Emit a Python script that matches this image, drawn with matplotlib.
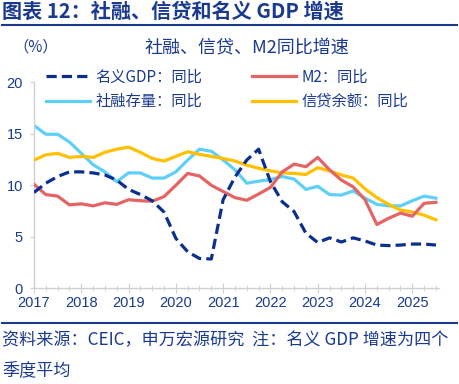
import matplotlib
matplotlib.use("Agg")
import matplotlib.pyplot as plt
from matplotlib.ticker import MultipleLocator
import numpy as np

# quarterly points, 2017Q1 .. 2025 (35 points)
start_year = 2017
n_points = 35

gdp = [9.3, 10.2, 10.85, 11.3, 11.3, 11.2, 11.0, 10.5, 9.6, 9.1, 8.5, 7.4,
       4.85, 3.55, 2.9, 2.85, 8.6, 10.8, 12.45, 13.5, 10.35, 8.4, 7.45, 5.35,
       4.45, 4.9, 4.5, 4.9, 4.6, 4.2, 4.15, 4.2, 4.3, 4.3, 4.2]
m2 = [10.1, 9.1, 8.95, 8.1, 8.2, 8.0, 8.3, 8.15, 8.6, 8.5, 8.45, 8.9,
      10.0, 11.15, 10.9, 10.0, 9.4, 8.8, 8.55, 9.15, 9.8, 11.3, 12.05, 11.8,
      12.7, 11.5, 10.5, 9.85, 8.6, 6.2, 6.8, 7.3, 7.0, 8.25, 8.35]
tsf = [15.8, 14.95, 14.95, 14.2, 13.1, 12.0, 11.3, 10.35, 11.2, 11.2, 10.7, 10.7,
       11.3, 12.45, 13.5, 13.3, 12.45, 11.5, 10.2, 10.4, 10.55, 10.85, 10.6, 9.6,
       9.9, 9.1, 9.05, 9.45, 8.75, 8.15, 8.0, 8.0, 8.5, 8.95, 8.75]
loans = [12.45, 12.95, 13.1, 12.7, 12.8, 12.7, 13.2, 13.5, 13.7, 13.2, 12.6, 12.35,
         12.8, 13.25, 13.0, 12.8, 12.6, 12.35, 11.95, 11.65, 11.4, 11.2, 11.15, 11.05,
         11.7, 11.4, 11.0, 10.7, 9.65, 8.8, 8.15, 7.6, 7.4, 7.1, 6.65]

year_labels = ["2017", "2018", "2019", "2020", "2021", "2022", "2023", "2024", "2025"]

x = start_year + 0.25 * np.arange(n_points)

NAVY = "#1A3A8F"
CJK = ["Noto Sans CJK SC", "DejaVu Sans"]
plt.rcParams["font.family"] = ["Liberation Sans", "Noto Sans CJK SC", "DejaVu Sans"]

fig = plt.figure(figsize=(4.59, 3.84), dpi=100)
ax = fig.add_axes([0.074, 0.249, 0.883, 0.537])

l_gdp, = ax.plot(x, gdp, color="#0B2F8F", lw=2.3, ls=(0, (3.2, 1.6)), zorder=5)
l_tsf, = ax.plot(x, tsf, color="#5ED0F8", lw=2.3, zorder=2)
l_loan, = ax.plot(x, loans, color="#FFC000", lw=2.3, zorder=3)
l_m2, = ax.plot(x, m2, color="#E46464", lw=2.3, zorder=4)

ax.set_xlim(2017, 2025.57)
ax.set_ylim(0, 20)
ax.set_xticks([int(y) for y in year_labels])
ax.set_xticklabels(year_labels)
ax.xaxis.set_minor_locator(MultipleLocator(0.25))
ax.set_yticks([0, 5, 10, 15, 20])

for s in ["top", "right"]:
    ax.spines[s].set_visible(False)
for s in ["left", "bottom"]:
    ax.spines[s].set_color("#D0D0D0")
    ax.spines[s].set_linewidth(1.0)

ax.tick_params(axis="x", which="major", direction="inout", length=7, color="#D0D0D0",
               labelsize=10.5, labelcolor=NAVY, pad=2)
ax.tick_params(axis="x", which="minor", direction="inout", length=4, color="#D0D0D0")
ax.tick_params(axis="y", direction="out", length=3, color="#D0D0D0",
               labelsize=10.5, labelcolor=NAVY, pad=5)

leg = ax.legend([l_gdp, l_tsf, l_m2, l_loan],
                ["名义GDP：同比", "社融存量：同比", "M2：同比", "信贷余额：同比"],
                ncol=2, loc="upper left", bbox_to_anchor=(0.07, 0.858),
                bbox_transform=fig.transFigure, frameon=False,
                handlelength=2.9, handletextpad=0.35, columnspacing=3.25,
                labelspacing=0.5, prop={"family": CJK, "size": 11})
for t in leg.get_texts():
    t.set_color(NAVY)

# header / titles
fig.text(0.005, 0.97, "图表 12：社融、信贷和名义 GDP 增速", family=CJK, fontsize=14.5,
         fontweight="bold", color=NAVY, va="center", ha="left")
fig.add_artist(plt.Line2D([0.005, 0.995], [0.935, 0.935], color=NAVY, lw=1.5,
                          transform=fig.transFigure))
fig.text(0.03, 0.878, "（%）", family=CJK, fontsize=11, color=NAVY, va="center", ha="left")
fig.text(0.538, 0.875, "社融、信贷、M2同比增速", family=CJK, fontsize=13,
         color=NAVY, va="center", ha="center")

# footer
fig.add_artist(plt.Line2D([0.005, 0.995], [0.159, 0.159], color=NAVY, lw=1.5,
                          transform=fig.transFigure))
fig.text(0.005, 0.115, "资料来源：CEIC，申万宏源研究  注：名义 GDP 增速为四个",
         family=CJK, fontsize=12.3, color=NAVY, va="center", ha="left")
fig.text(0.005, 0.035, "季度平均", family=CJK, fontsize=12.3, color=NAVY,
         va="center", ha="left")

fig.savefig("out.png", dpi=100)
